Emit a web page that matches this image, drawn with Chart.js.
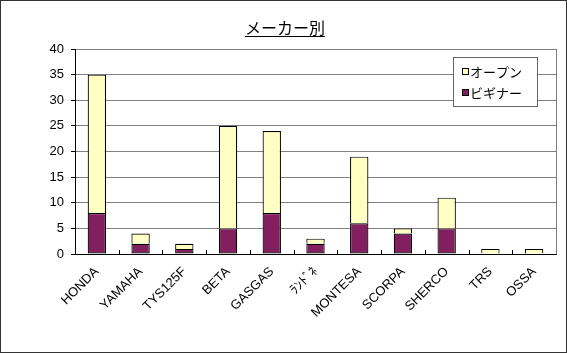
<!DOCTYPE html>
<html>
<head>
<meta charset="utf-8">
<script src="https://cdn.jsdelivr.net/npm/chart.js@4"></script>
<style>
  html, body { margin: 0; padding: 0; background: #fff; }
  #wrap { width: 567px; height: 353px; box-sizing: border-box; border: 1px solid #333; position: relative; }
  canvas { display: block; }
</style>
</head>
<body>
<div id="wrap"><canvas id="makerChart" width="565" height="351"></canvas></div>
<script>
const makers = ['HONDA', 'YAMAHA', 'TYS125F', 'BETA', 'GASGAS', 'ﾗﾝﾄﾞﾈ', 'MONTESA', 'SCORPA', 'SHERCO', 'TRS', 'OSSA'];
const beginner = [8, 2, 1, 5, 8, 2, 6, 4, 5, 0, 0];
const open = [27, 2, 1, 20, 16, 1, 13, 1, 6, 1, 1];
const yTicks = [0, 5, 10, 15, 20, 25, 30, 35, 40];
const chartTitle = 'メーカー別';

const latinFont = '"Liberation Sans", Arial, "Noto Sans CJK JP", sans-serif';
const jpFont = '"Noto Sans CJK JP", "Liberation Sans", sans-serif';

// title with underline, legend box, inner tick marks, plot right edge
const decorations = {
    id: 'decorations',
    afterDraw(chart) {
        const ctx = chart.ctx;
        const area = chart.chartArea;
        const x = chart.scales.x;

        ctx.save();
        // plot border right side
        ctx.strokeStyle = '#808080';
        ctx.lineWidth = 1;
        ctx.beginPath();
        ctx.moveTo(Math.round(area.right) + 0.5, area.top);
        ctx.lineTo(Math.round(area.right) + 0.5, area.bottom);
        ctx.stroke();

        // inward tick marks between categories
        ctx.strokeStyle = '#000';
        ctx.beginPath();
        for (let i = 0; i < makers.length - 1; i++) {
            const px = Math.round((x.getPixelForValue(i) + x.getPixelForValue(i + 1)) / 2) + 0.5;
            ctx.moveTo(px, area.bottom);
            ctx.lineTo(px, area.bottom - 4);
        }
        ctx.stroke();

        // title
        ctx.fillStyle = '#000';
        ctx.font = '16px ' + jpFont;
        ctx.textAlign = 'center';
        ctx.textBaseline = 'alphabetic';
        const tx = 284, ty = 33;
        ctx.fillText(chartTitle, tx, ty);
        const tw = ctx.measureText(chartTitle).width;
        ctx.beginPath();
        ctx.moveTo(tx - tw / 2, ty + 2.5);
        ctx.lineTo(tx + tw / 2, ty + 2.5);
        ctx.stroke();

        // legend
        const lx = 452.5, ly = 56.5, lw = 84, lh = 49;
        ctx.fillStyle = '#fff';
        ctx.fillRect(lx, ly, lw, lh);
        ctx.strokeStyle = '#666';
        ctx.strokeRect(lx, ly, lw, lh);
        const items = [chart.data.datasets[1], chart.data.datasets[0]];
        ctx.font = '13px ' + jpFont;
        ctx.textAlign = 'left';
        ctx.textBaseline = 'middle';
        items.forEach((ds, i) => {
            const cy = 71 + i * 21;
            ctx.fillStyle = ds.backgroundColor;
            ctx.fillRect(461.5, cy - 3.5, 6, 6);
            ctx.strokeStyle = '#000';
            ctx.strokeRect(461.5, cy - 3.5, 6, 6);
            ctx.fillStyle = '#000';
            ctx.fillText(ds.label, 469, cy);
        });
        ctx.restore();
    }
};

new Chart(document.getElementById('makerChart'), {
    type: 'bar',
    data: {
        labels: makers,
        datasets: [
            {
                label: 'ビギナー',
                data: beginner,
                backgroundColor: '#82205f',
                borderColor: '#000',
                borderWidth: 1.2,
                borderSkipped: false,
                barPercentage: 0.42,
                categoryPercentage: 1
            },
            {
                label: 'オープン',
                data: open,
                backgroundColor: '#ffffc4',
                borderColor: '#000',
                borderWidth: 1.2,
                borderSkipped: 'start',
                barPercentage: 0.42,
                categoryPercentage: 1
            }
        ]
    },
    options: {
        responsive: false,
        animation: false,
        events: [],
        layout: {
            padding: { left: 0, top: 48, right: 10, bottom: 0 }
        },
        plugins: {
            legend: { display: false },
            title: { display: false },
            tooltip: { enabled: false }
        },
        scales: {
            x: {
                stacked: true,
                afterFit: (s) => { s.height = 98; },
                grid: { display: false },
                border: { color: '#000' },
                ticks: {
                    color: '#000',
                    font: { family: latinFont, size: 13 },
                    minRotation: 45,
                    maxRotation: 45,
                    autoSkip: false,
                    padding: 2
                }
            },
            y: {
                stacked: true,
                min: 0,
                max: 40,
                afterFit: (s) => { s.width = 74; },
                afterBuildTicks: (s) => { s.ticks = yTicks.map(v => ({ value: v })); },
                grid: {
                    color: '#808080',
                    tickColor: '#000',
                    tickLength: 4
                },
                border: { color: '#000' },
                ticks: {
                    color: '#000',
                    padding: 7,
                    font: { family: latinFont, size: 13 }
                }
            }
        }
    },
    plugins: [decorations]
});
</script>
</body>
</html>
